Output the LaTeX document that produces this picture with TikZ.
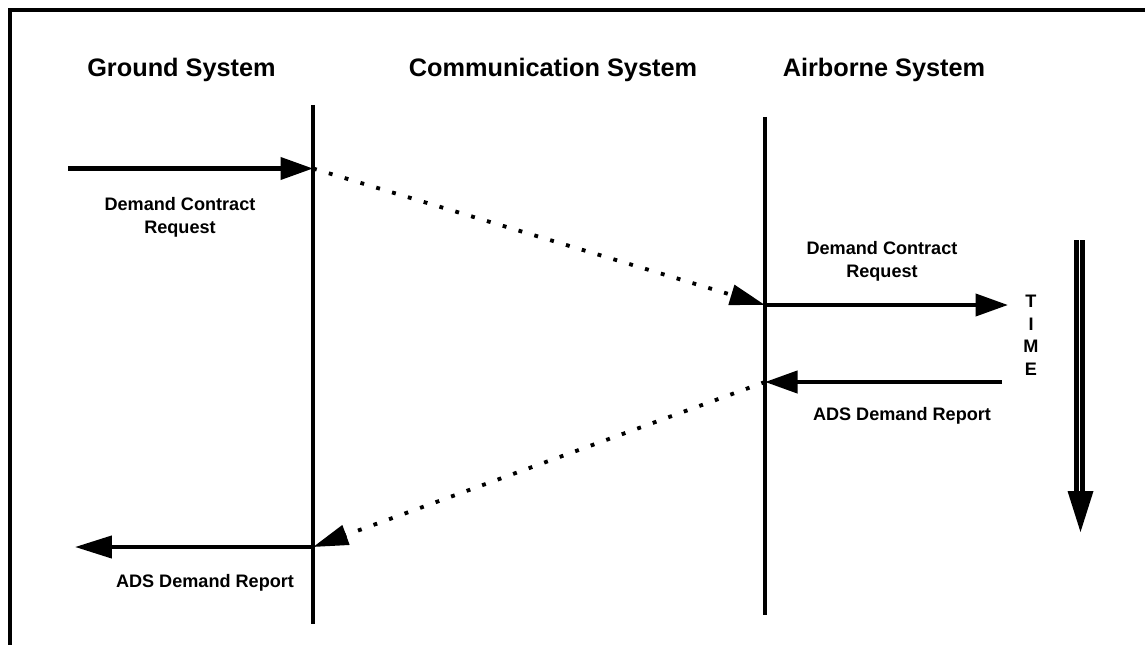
\documentclass[tikz,border=0pt]{standalone}
\usepackage{fontspec}
\setmainfont{Liberation Sans}
\usetikzlibrary{arrows.meta}
\begin{document}
\begin{tikzpicture}[x=0.02cm,y=-0.02cm,
  head/.style={font=\bfseries\fontsize{14.4}{17}\selectfont, anchor=base, inner sep=0pt},
  lbl/.style={font=\bfseries\fontsize{10.3}{13}\selectfont, anchor=base, align=center, inner sep=0pt},
  timelbl/.style={font=\bfseries\fontsize{10.3}{12.8}\selectfont, anchor=base, align=center, inner sep=0pt},
  frameline/.style={line width=2pt},
  lifeline/.style={line width=1.9pt},
  msg/.style={line width=2.4pt, -{Triangle[length=18.5pt,width=12.5pt]}},
  relay/.style={line width=2.2pt, dash pattern=on 2.2pt off 7.2pt, -{Triangle[length=20pt,width=11.5pt]}},
]
\useasboundingbox (0,0) rectangle (1145,645);
% open frame: top and left edges
\draw[frameline] (10,645) -- (10,10) -- (1145,10);

% column headings
\node[head] (hground) at (181.5,77) {Ground System};
\node[head] (hcomm) at (553,77) {Communication System};
\node[head] (hair) at (884,77) {Airborne System};

% lifelines
\coordinate (gtop) at (313,105);
\coordinate (gbot) at (313,624);
\coordinate (atop) at (765,117);
\coordinate (abot) at (765,615);
\draw[lifeline] (gtop) -- (gbot);
\draw[lifeline] (atop) -- (abot);

% message end points
\coordinate (g1) at (68,168.5);
\coordinate (a1) at (313,168.5);
\coordinate (b1) at (765,305);
\coordinate (c1) at (1008,305);
\coordinate (c2) at (1002,382);
\coordinate (b2) at (765,382);
\coordinate (a2) at (313,547);
\coordinate (g2) at (75,547);

% messages
\draw[msg] (g1) -- (a1);
\draw[relay] (a1) -- (b1);
\draw[msg] (b1) -- (c1);
\draw[msg] (c2) -- (b2);
\draw[relay] (b2) -- (a2);
\draw[msg, -{Triangle[length=21pt,width=12.5pt]}] (a2) -- (g2);

% message labels (base = baseline of the last line)
\node[lbl] (req1) at (180,233.5) {Demand Contract\\Request};
\node[lbl] (req2) at (882,277.5) {Demand Contract\\Request};
\node[lbl] (rep2) at (902,420) {ADS Demand Report};
\node[lbl] (rep1) at (205,587) {ADS Demand Report};

% time axis
\node[timelbl] (time) at (1031,375) {T\\I\\M\\E};
\coordinate (t0) at (1079.5,240);
\coordinate (t1) at (1079.5,492);
\coordinate (t2) at (1080.5,532);
\draw[line width=2.8pt, double=white, double distance=1pt] (t0) -- (t1);
\fill (1067.5,491) -- (1093.5,491) -- (t2) -- cycle;
\end{tikzpicture}
\end{document}
